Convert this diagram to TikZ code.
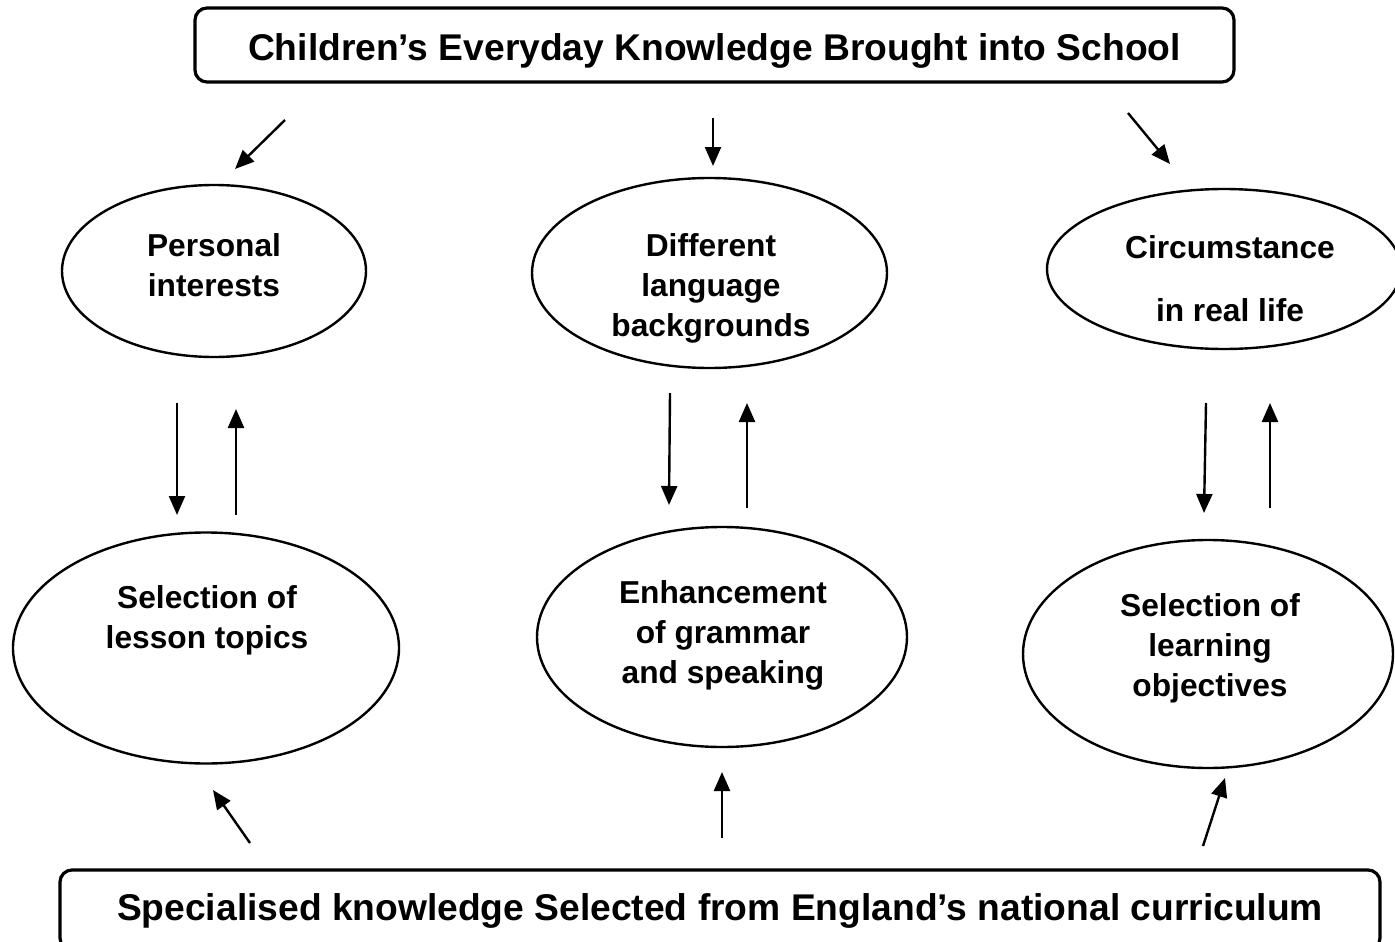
\documentclass[tikz,border=0pt]{standalone}
\usepackage{fontspec}
\setmainfont{Liberation Sans}
\usetikzlibrary{arrows.meta,shapes.geometric}

\begin{document}
\begin{tikzpicture}
            [x=1pt,y=-1pt,
             Box/.style={draw=black,line width=3.2pt,rounded corners=12pt,font=\fontsize{37.2}{44}\selectfont\bfseries},
             Ell/.style={ellipse,draw=black,line width=2.4pt,inner sep=0pt},
             Txt/.style={align=center,font=\fontsize{31.7}{40}\selectfont\bfseries},
             Arr/.style={line width=2.4pt,-{Triangle[length=19pt,width=16pt]}}];
            \useasboundingbox (0,0) rectangle (1395,942);
            % the two knowledge boxes
            \node[Box,minimum width=1039pt,minimum height=74pt,text height=38pt,text depth=8pt] (everyday) at (714.5,45) {Children’s Everyday Knowledge Brought into School};
            \node[Box,minimum width=1320pt,minimum height=80pt,text height=28pt,text depth=8pt] (curriculum) at (720,910) {Specialised knowledge Selected from England’s national curriculum};
            % upper row
            \node[Ell,minimum width=304pt,minimum height=172pt] (interests) at (214,271) {};
            \node[Ell,minimum width=355pt,minimum height=190pt] (language) at (709.5,273) {};
            \node[Ell,minimum width=354pt,minimum height=160pt] (circumstance) at (1224,269) {};
            \node[Txt] (interests-t) at (214,265) {Personal\\interests};
            \node[Txt] (language-t) at (711,288) {Different\\language\\backgrounds};
            \node[Txt] (circumstance-t) at (1230,278.5) {Circumstance\\[23pt]in real life};
            % lower row
            \node[Ell,minimum width=386pt,minimum height=231pt] (topics) at (206,648) {};
            \node[Ell,minimum width=370pt,minimum height=220pt] (grammar) at (722,637) {};
            \node[Ell,minimum width=370pt,minimum height=228pt] (objectives) at (1208,654) {};
            \node[Txt] (topics-t) at (207,620) {Selection of\\lesson topics};
            \node[Txt] (grammar-t) at (723,635.5) {Enhancement\\of grammar\\and speaking};
            \node[Txt] (objectives-t) at (1210,648.5) {Selection of\\learning\\objectives};
            % loose arrows
            \foreach \n/\a/\b/\c/\d in {tl/285/120/235/169, tm/713/118/713/166, tr/1128/113/1170/164,
                ld/177/403/177/515, lu/236/515/236/409, md/670/393/669/505, mu/747/508/747/403,
                rd/1206/403/1204/513, ru/1270/508/1270/403,
                bl/250/843/213/790, bm/722/838/722/772, br/1203/846/1225/778}
            {
                \coordinate (\n s) at (\a,\b);
                \coordinate (\n e) at (\c,\d);
                \draw[Arr] (\n s) -- (\n e);
            }
        \end{tikzpicture}
\end{document}
